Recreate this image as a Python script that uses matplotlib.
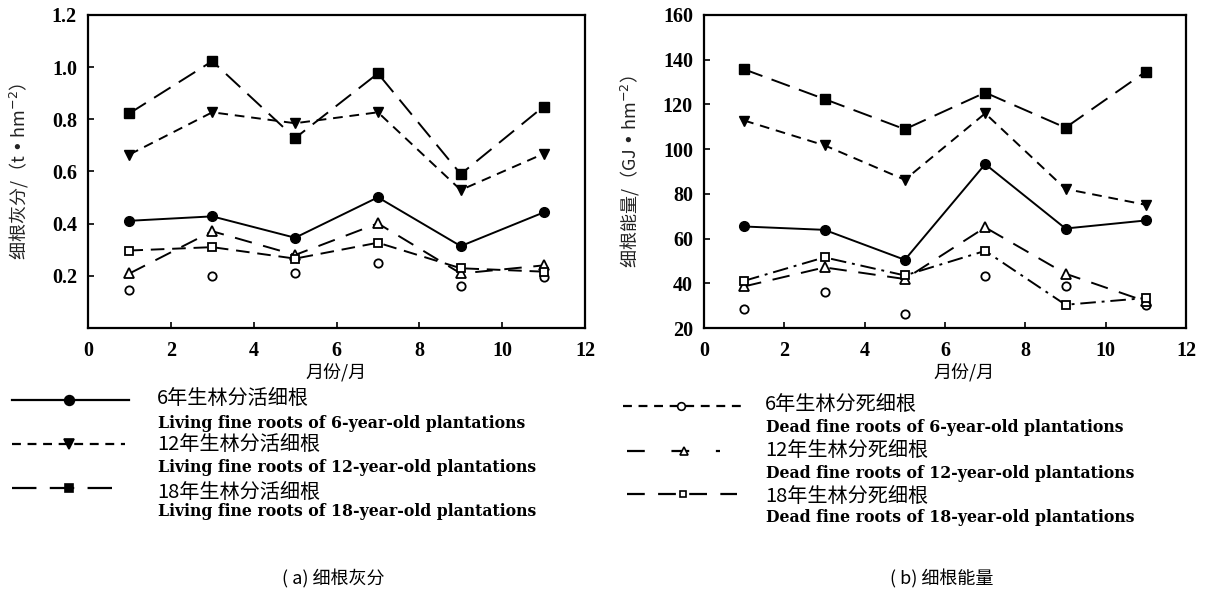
import matplotlib
matplotlib.use("Agg")
import matplotlib.pyplot as plt
from matplotlib.lines import Line2D

# ---------------- data ----------------
months = [1, 3, 5, 7, 9, 11]

# (a) fine root ash, t/hm2
ash_live6 = [0.411, 0.428, 0.346, 0.501, 0.314, 0.443]
ash_live12 = [0.665, 0.827, 0.785, 0.827, 0.529, 0.668]
ash_live18 = [0.823, 1.023, 0.728, 0.976, 0.590, 0.849]
ash_dead6 = [0.147, 0.200, 0.209, 0.251, 0.162, 0.196]
ash_dead12 = [0.209, 0.371, 0.280, 0.401, 0.209, 0.240]
ash_dead18 = [0.297, 0.310, 0.266, 0.327, 0.229, 0.216]

# (b) fine root energy, GJ/hm2
en_live6 = [65.4, 63.9, 50.5, 93.3, 64.5, 68.1]
en_live12 = [112.8, 101.7, 86.3, 116.0, 82.2, 75.1]
en_live18 = [135.7, 122.4, 108.9, 125.3, 109.6, 134.7]
en_dead6 = [28.6, 36.1, 26.4, 43.1, 38.9, 30.4]
en_dead12 = [38.6, 47.1, 41.9, 65.0, 44.3, 31.9]
en_dead18 = [41.1, 51.6, 43.5, 54.5, 30.4, 33.4]

x_ticks = [0, 2, 4, 6, 8, 10, 12]
ash_ticks = [0.2, 0.4, 0.6, 0.8, 1.0, 1.2]
en_ticks = [20, 40, 60, 80, 100, 120, 140, 160]

legend_a_cn = ["6年生林分活细根", "12年生林分活细根", "18年生林分活细根"]
legend_a_en = ["Living fine roots of 6-year-old plantations",
               "Living fine roots of 12-year-old plantations",
               "Living fine roots of 18-year-old plantations"]
legend_b_cn = ["6年生林分死细根", "12年生林分死细根", "18年生林分死细根"]
legend_b_en = ["Dead fine roots of 6-year-old plantations",
               "Dead fine roots of 12-year-old plantations",
               "Dead fine roots of 18-year-old plantations"]

CJK = ['Noto Sans CJK SC', 'DejaVu Sans']
SERIF = 'Liberation Serif'

W, H = 1213, 592
fig = plt.figure(figsize=(W / 100, H / 100), dpi=100)


def fx(px):
    return px / W


def fy(py):
    return 1 - py / H


def style_axes(ax, yticks, ylim, fmt):
    ax.set_xlim(0, 12)
    ax.set_ylim(*ylim)
    ax.set_xticks(x_ticks)
    ax.set_yticks(yticks)
    ax.set_xticklabels([str(t) for t in x_ticks])
    ax.set_yticklabels([fmt(t) for t in yticks])
    ax.tick_params(direction='in', length=4, width=1.2, labelsize=14.5)
    ax.tick_params(axis='x', pad=9)
    ax.tick_params(axis='y', pad=8)
    for lab in ax.get_xticklabels() + ax.get_yticklabels():
        lab.set_fontfamily(SERIF)
        lab.set_fontweight('bold')
    for s in ax.spines.values():
        s.set_linewidth(1.6)


S_LIVE12 = (0, (5, 3.5))
S_LIVE18 = (0, (10, 5))
S_DEAD12 = (0, (9, 6))
S_DEAD18 = (0, (7, 4))
S_DEAD18B = (0, (8, 3, 1.5, 3))

# ---------------- panel (a) ----------------
ax1 = fig.add_axes([fx(88), fy(328), fx(585 - 88), fy(15) - fy(328)])
ax1.plot(months, ash_live6, '-', color='black', lw=1.4, marker='o', ms=7)
ax1.plot(months, ash_live12, color='black', lw=1.4, ls=S_LIVE12, marker='v', ms=7)
ax1.plot(months, ash_live18, color='black', lw=1.4, ls=S_LIVE18, marker='s', ms=6.5)
ax1.plot(months, ash_dead6, color='black', lw=0, marker='o', ms=6, mfc='white', mew=1.3)
ax1.plot(months, ash_dead12, color='black', lw=1.4, ls=S_DEAD12, marker='^', ms=7, mfc='white', mew=1.3)
ax1.plot(months, ash_dead18, color='black', lw=1.4, ls=S_DEAD18, marker='s', ms=6, mfc='white', mew=1.3)
style_axes(ax1, ash_ticks, (0, 1.2), lambda t: f"{t:.1f}")
ax1.set_xlabel("月份/月", fontfamily=CJK, fontsize=13)
ax1.xaxis.set_label_coords(0.5, -0.112)
ax1.set_ylabel("细根灰分/（t • hm$^{-2}$）", fontfamily=CJK, fontsize=13, color='#222222')
ax1.yaxis.set_label_coords(-0.115, 0.5)

# ---------------- panel (b) ----------------
ax2 = fig.add_axes([fx(704), fy(328), fx(1186 - 704), fy(15) - fy(328)])
ax2.plot(months, en_live6, '-', color='black', lw=1.4, marker='o', ms=7)
ax2.plot(months, en_live12, color='black', lw=1.4, ls=S_LIVE12, marker='v', ms=7)
ax2.plot(months, en_live18, color='black', lw=1.4, ls=S_LIVE18, marker='s', ms=6.5)
ax2.plot(months, en_dead6, color='black', lw=0, marker='o', ms=6, mfc='white', mew=1.3)
ax2.plot(months, en_dead12, color='black', lw=1.4, ls=S_DEAD12, marker='^', ms=7, mfc='white', mew=1.3)
ax2.plot(months, en_dead18, color='black', lw=1.4, ls=S_DEAD18B, marker='s', ms=6, mfc='white', mew=1.3)
style_axes(ax2, en_ticks, (20, 160), lambda t: f"{t:d}")
ax2.set_xlabel("月份/月", fontfamily=CJK, fontsize=13)
ax2.xaxis.set_label_coords(0.54, -0.112)
ax2.set_ylabel("细根能量/（GJ • hm$^{-2}$）", fontfamily=CJK, fontsize=13, color='#222222')
ax2.yaxis.set_label_coords(-0.129, 0.5)


# ---------------- legends ----------------
def legend_sample(x0, x1, xm, y, ls, marker, ms, mfc):
    fig.add_artist(Line2D([fx(x0), fx(x1)], [fy(y), fy(y)], transform=fig.transFigure,
                          color='black', lw=1.6, ls=ls))
    fig.add_artist(Line2D([fx(xm)], [fy(y)], transform=fig.transFigure, color='black',
                          marker=marker, ms=ms, mfc=mfc, mew=1.2, lw=0))


legend_sample(12, 129, 69, 400, '-', 'o', 7, 'black')
legend_sample(12, 125, 69, 444, (0, (4, 3)), 'v', 6.5, 'black')
legend_sample(12, 117, 69, 488, (0, (11, 6)), 's', 5.5, 'black')
legend_sample(623, 743, 681, 406, (0, (4, 3)), 'o', 5.5, 'white')
legend_sample(627, 720, 684, 451, (0, (8, 12)), '^', 5.5, 'white')
legend_sample(627, 737, 683, 494, (0, (8, 6)), 's', 5, 'white')

for i, (cn, en) in enumerate(zip(legend_a_cn, legend_a_en)):
    yc = [399, 445, 492][i]
    ye = [423, 467, 512][i]
    fig.text(fx(157), fy(yc), cn, fontfamily=CJK, fontsize=14.5, va='center', ha='left')
    fig.text(fx(158), fy(ye), en, fontfamily='DejaVu Serif', fontweight='bold',
             fontsize=11.3, va='center', ha='left')

for i, (cn, en) in enumerate(zip(legend_b_cn, legend_b_en)):
    yc = [405, 451, 497][i]
    ye = [428, 473, 518][i]
    fig.text(fx(765), fy(yc), cn, fontfamily=CJK, fontsize=14.5, va='center', ha='left')
    fig.text(fx(766), fy(ye), en, fontfamily='DejaVu Serif', fontweight='bold',
             fontsize=11.3, va='center', ha='left')

fig.text(fx(333), fy(579), "( a) 细根灰分", fontfamily=CJK, fontsize=13, ha='center', va='center')
fig.text(fx(942), fy(579), "( b) 细根能量", fontfamily=CJK, fontsize=13, ha='center', va='center')

fig.savefig("out.png", dpi=100)
